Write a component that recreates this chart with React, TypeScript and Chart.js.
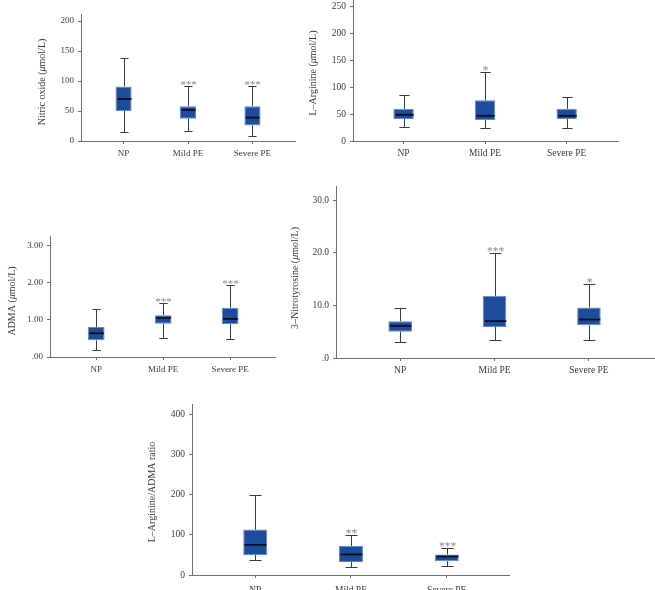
import React, { useEffect, useRef } from 'react';
import { Chart, registerables } from 'chart.js';

Chart.register(...registerables);

const categories = ['NP', 'Mild PE', 'Severe PE'];

// Nitric oxide (µmol/L)
const noMin = [15, 17, 8];
const noQ1 = [50, 37, 26];
const noMedian = [70, 52, 39];
const noQ3 = [91, 58, 58];
const noMax = [139, 91, 92];
const noSig = ['', '***', '***'];
const noTicks = [0, 50, 100, 150, 200];
const noTickLabels = ['0', '50', '100', '150', '200'];

// L-Arginine (µmol/L)
const argMin = [26, 24, 24];
const argQ1 = [41, 39, 41];
const argMedian = [49, 47, 47];
const argQ3 = [60, 76, 60];
const argMax = [86, 129, 82];
const argSig = ['', '*', ''];
const argTicks = [0, 50, 100, 150, 200, 250];
const argTickLabels = ['0', '50', '100', '150', '200', '250'];

// ADMA (µmol/L)
const admaMin = [0.2, 0.51, 0.49];
const admaQ1 = [0.45, 0.9, 0.89];
const admaMedian = [0.64, 1.06, 1.03];
const admaQ3 = [0.81, 1.13, 1.33];
const admaMax = [1.31, 1.46, 1.95];
const admaSig = ['', '***', '***'];
const admaTicks = [0, 1, 2, 3];
const admaTickLabels = ['.00', '1.00', '2.00', '3.00'];

// 3-Nitrotyrosine (µmol/L)
const ntMin = [3.0, 3.4, 3.4];
const ntQ1 = [5.0, 5.9, 6.2];
const ntMedian = [6.1, 7.0, 7.3];
const ntQ3 = [7.0, 11.8, 9.6];
const ntMax = [9.5, 19.9, 14.1];
const ntSig = ['', '***', '*'];
const ntTicks = [0, 10, 20, 30];
const ntTickLabels = ['.0', '10.0', '20.0', '30.0'];

// L-Arginine/ADMA ratio
const ratioMin = [37, 21, 22];
const ratioQ1 = [50, 32, 34];
const ratioMedian = [75, 51, 46];
const ratioQ3 = [113, 72, 51];
const ratioMax = [198, 100, 67];
const ratioSig = ['', '**', '***'];
const ratioTicks = [0, 100, 200, 300, 400];
const ratioTickLabels = ['0', '100', '200', '300', '400'];

const FONT = "'Liberation Serif', 'Times New Roman', serif";
const BOX_FILL = '#1e4c9c';
const BOX_BORDER = '#5f8ad2';
const MEDIAN = '#0a0e18';
const WHISKER = '#3a3a3a';
const AXIS = '#707070';
const TEXT = '#3a3a3a';
const STAR = '#8a8a8a';

type Spec = {
  min: number[]; q1: number[]; med: number[]; q3: number[]; max: number[]; sig: string[];
  ticks: number[]; tickLabels: string[]; yMax: number;
  title: [string, boolean][];
  canvas: { left: number; top: number; width: number; height: number };
  area: { left: number; top: number; right: number; bottom: number };
  xRange: [number, number];
  tickFont: number; titleFont: number; titleX: number; titleY: number; xPad: number;
};

const unit = (name: string): [string, boolean][] => [[name + ' (', false], ['\u03bc', true], ['mol/L)', false]];

const specs: Spec[] = [
  {
    min: noMin, q1: noQ1, med: noMedian, q3: noQ3, max: noMax, sig: noSig,
    ticks: noTicks, tickLabels: noTickLabels, yMax: 211.7,
    title: unit('Nitric oxide'),
    canvas: { left: 0, top: 0, width: 320, height: 172 },
    area: { left: 81, top: 14, right: 295, bottom: 141 },
    xRange: [-0.66, 2.66], tickFont: 9, titleFont: 10, titleX: 42, titleY: 82, xPad: 4,
  },
  {
    min: argMin, q1: argQ1, med: argMedian, q3: argQ3, max: argMax, sig: argSig,
    ticks: argTicks, tickLabels: argTickLabels, yMax: 263,
    title: unit('L\u2013Arginine'),
    canvas: { left: 300, top: 0, width: 355, height: 172 },
    area: { left: 353, top: 0, right: 618, bottom: 141 },
    xRange: [-0.62, 2.63], tickFont: 9.5, titleFont: 10, titleX: 313, titleY: 73, xPad: 4,
  },
  {
    min: admaMin, q1: admaQ1, med: admaMedian, q3: admaQ3, max: admaMax, sig: admaSig,
    ticks: admaTicks, tickLabels: admaTickLabels, yMax: 3.27,
    title: unit('ADMA'),
    canvas: { left: 0, top: 225, width: 285, height: 175 },
    area: { left: 50, top: 236, right: 275, bottom: 357 },
    xRange: [-0.69, 2.67], tickFont: 9, titleFont: 10, titleX: 12, titleY: 301, xPad: 4,
  },
  {
    min: ntMin, q1: ntQ1, med: ntMedian, q3: ntQ3, max: ntMax, sig: ntSig,
    ticks: ntTicks, tickLabels: ntTickLabels, yMax: 32.66,
    title: unit('3\u2013Nitrotyrosine'),
    canvas: { left: 280, top: 180, width: 375, height: 220 },
    area: { left: 336, top: 186, right: 655, bottom: 358 },
    xRange: [-0.68, 2.7], tickFont: 9.5, titleFont: 10, titleX: 295, titleY: 278, xPad: 4,
  },
  {
    min: ratioMin, q1: ratioQ1, med: ratioMedian, q3: ratioQ3, max: ratioMax, sig: ratioSig,
    ticks: ratioTicks, tickLabels: ratioTickLabels, yMax: 425,
    title: [['L\u2013Arginine/ADMA ratio', false]],
    canvas: { left: 140, top: 400, width: 380, height: 190 },
    area: { left: 192, top: 404, right: 509, bottom: 575 },
    xRange: [-0.66, 2.65], tickFont: 9.5, titleFont: 10, titleX: 152, titleY: 492, xPad: 7,
  },
];

function makePlugin(s: Spec) {
  return {
    id: 'boxExtras',
    afterDatasetsDraw(chart: any) {
      const x = chart.scales.x;
      const y = chart.scales.y;
      const ctx = chart.ctx as CanvasRenderingContext2D;
      ctx.save();
      categories.forEach((_, i) => {
        const cx = Math.round(x.getPixelForValue(i)) + 0.5;
        const half = (x.getPixelForValue(i + 0.125) - x.getPixelForValue(i - 0.125)) / 2;
        const cap = half / 2;
        const yMin = Math.round(y.getPixelForValue(s.min[i])) + 0.5;
        const yMax = Math.round(y.getPixelForValue(s.max[i])) + 0.5;
        const yQ1 = y.getPixelForValue(s.q1[i]);
        const yQ3 = y.getPixelForValue(s.q3[i]);
        const yMed = y.getPixelForValue(s.med[i]);
        ctx.strokeStyle = WHISKER;
        ctx.lineWidth = 1;
        ctx.beginPath();
        ctx.moveTo(cx, yQ3);
        ctx.lineTo(cx, yMax);
        ctx.moveTo(cx, yQ1);
        ctx.lineTo(cx, yMin);
        ctx.moveTo(cx - cap, yMax);
        ctx.lineTo(cx + cap, yMax);
        ctx.moveTo(cx - cap, yMin);
        ctx.lineTo(cx + cap, yMin);
        ctx.stroke();
        ctx.strokeStyle = MEDIAN;
        ctx.lineWidth = 1.8;
        ctx.beginPath();
        ctx.moveTo(cx - half + 1, yMed);
        ctx.lineTo(cx + half - 1, yMed);
        ctx.stroke();
        if (s.sig[i]) {
          ctx.fillStyle = STAR;
          ctx.font = `${s.tickFont + 2}px ${FONT}`;
          ctx.textAlign = 'center';
          ctx.textBaseline = 'alphabetic';
          ctx.fillText(s.sig[i], cx, yMax + 1);
        }
      });
      ctx.restore();
    },
    afterDraw(chart: any) {
      const ctx = chart.ctx as CanvasRenderingContext2D;
      ctx.save();
      const tx = s.titleX - s.canvas.left;
      const ty = s.titleY - s.canvas.top;
      ctx.translate(tx, ty);
      ctx.rotate(-Math.PI / 2);
      ctx.fillStyle = TEXT;
      ctx.textBaseline = 'middle';
      ctx.textAlign = 'left';
      const fonts = s.title.map(([, it]) => `${it ? 'italic ' : ''}${s.titleFont}px ${FONT}`);
      let total = 0;
      const widths = s.title.map(([t], k) => {
        ctx.font = fonts[k];
        const w = ctx.measureText(t).width;
        total += w;
        return w;
      });
      let pos = -total / 2;
      s.title.forEach(([t], k) => {
        ctx.font = fonts[k];
        ctx.fillText(t, pos, 0);
        pos += widths[k];
      });
      ctx.restore();
    },
  };
}

function buildConfig(s: Spec): any {
  const c = s.canvas;
  const a = s.area;
  const zeroPad = (sc: any) => {
    sc.paddingLeft = 0;
    sc.paddingRight = 0;
    sc.paddingTop = 0;
    sc.paddingBottom = 0;
  };
  return {
    type: 'bar',
    data: {
      datasets: [
        {
          data: categories.map((_, i) => ({ x: i, y: [s.q1[i], s.q3[i]] })),
          backgroundColor: BOX_FILL,
          borderColor: BOX_BORDER,
          borderWidth: 1,
          borderSkipped: false,
          categoryPercentage: 0.25,
          barPercentage: 1,
        },
      ],
    },
    options: {
      responsive: false,
      animation: false,
      devicePixelRatio: 1,
      layout: {
        padding: { left: 0, bottom: 0, top: a.top - c.top, right: c.left + c.width - a.right },
      },
      plugins: { legend: { display: false }, tooltip: { enabled: false }, title: { display: false } },
      scales: {
        x: {
          type: 'linear',
          min: s.xRange[0],
          max: s.xRange[1],
          offset: false,
          grid: { display: true, offset: false, drawOnChartArea: false, drawTicks: true, tickLength: 3, tickColor: AXIS, color: AXIS },
          border: { display: true, color: AXIS, width: 1 },
          afterBuildTicks: (sc: any) => {
            sc.ticks = categories.map((_, i) => ({ value: i }));
          },
          ticks: {
            callback: (_v: any, i: number) => categories[i],
            font: { family: FONT, size: s.tickFont },
            color: TEXT,
            padding: s.xPad,
            maxRotation: 0,
            autoSkip: false,
          },
          afterFit: (sc: any) => {
            sc.height = c.top + c.height - a.bottom;
            zeroPad(sc);
          },
        },
        y: {
          type: 'linear',
          min: 0,
          max: s.yMax,
          grid: { display: true, drawOnChartArea: false, drawTicks: true, tickLength: 3, tickColor: AXIS, color: AXIS },
          border: { display: true, color: AXIS, width: 1 },
          afterBuildTicks: (sc: any) => {
            sc.ticks = s.ticks.map((v) => ({ value: v }));
          },
          ticks: {
            callback: (_v: any, i: number) => s.tickLabels[i],
            font: { family: FONT, size: s.tickFont },
            color: TEXT,
            padding: 4,
            autoSkip: false,
          },
          afterFit: (sc: any) => {
            sc.width = a.left - c.left;
            zeroPad(sc);
          },
        },
      },
    },
    plugins: [makePlugin(s)],
  };
}

function BoxPanel({ spec }: { spec: Spec }) {
  const ref = useRef<HTMLCanvasElement>(null);
  useEffect(() => {
    const chart = new Chart(ref.current as HTMLCanvasElement, buildConfig(spec));
    return () => chart.destroy();
  }, [spec]);
  const { left, top, width, height } = spec.canvas;
  return (
    <canvas
      ref={ref}
      width={width}
      height={height}
      style={{ position: 'absolute', left, top, width, height }}
    />
  );
}

export default function App() {
  return (
    <div style={{ position: 'absolute', left: 0, top: 0, width: 655, height: 590, background: '#fff', overflow: 'hidden' }}>
      {specs.map((s, i) => (
        <BoxPanel key={i} spec={s} />
      ))}
    </div>
  );
}
